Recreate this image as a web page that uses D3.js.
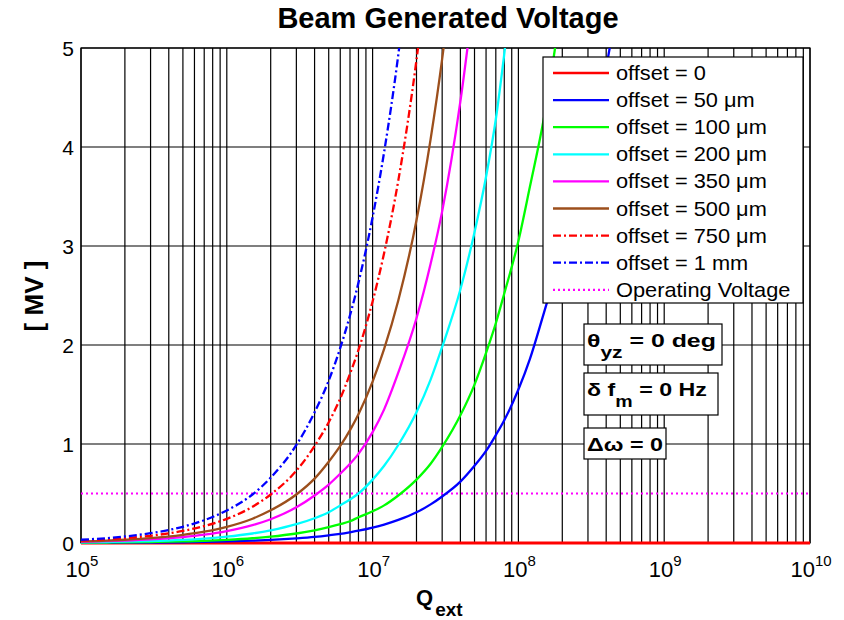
<!DOCTYPE html>
<html>
<head>
<meta charset="utf-8">
<script src="https://cdn.jsdelivr.net/npm/d3@7"></script>
<style>
  body { margin: 0; background: #fff; }
  text { font-family: "Liberation Sans", Arial, sans-serif; fill: #000; }
</style>
</head>
<body>
<div id="voltage_div"></div>
<script>
// Q_ext sample points
const q_values = [1e5, 1.5e5, 2e5, 3e5, 5e5, 7e5, 1e6, 1.5e6, 2e6, 3e6, 4e6, 5e6, 6e6, 7e6, 8e6,
  1e7, 1.2e7, 1.5e7, 2e7, 2.5e7, 3e7, 4e7, 5e7, 6e7, 7e7, 8e7, 1e8, 1.2e8, 1.5e8, 2e8, 2.5e8, 3e8, 4e8, 5e8,
  1e9, 1e10];

// beam generated voltage [MV] per offset, null once the curve has left the plot
const v_offset_0    = [0,0,0,0,0,0,0,0,0,0,0,0,0,0,0,0,0,0,0,0,0,0,0,0,0,0,0,0,0,0,0,0,0,0,0,0];
const v_offset_50   = [.0016,.0023,.003,.0047,.0078,.011,.0155,.023,.031,.047,.062,.078,.093,.109,.124,
  .155,.186,.233,.31,.39,.47,.62,.78,.93,1.09,1.24,1.55,1.86,2.33,2.95,3.4,3.85,4.8,5.6,null,null];
const v_offset_100  = [.003,.005,.006,.01,.016,.022,.032,.048,.064,.096,.128,.16,.19,.22,.26,
  .32,.38,.48,.64,.8,.97,1.29,1.6,1.92,2.22,2.52,3.05,3.6,4.3,5.5,null,null,null,null,null,null];
const v_offset_200  = [.006,.01,.013,.019,.032,.045,.064,.096,.128,.19,.25,.31,.38,.44,.50,
  .64,.78,.99,1.32,1.65,1.98,2.56,3.14,3.7,4.28,4.94,6.2,null,null,null,null,null,null,null,null,null];
const v_offset_350  = [.012,.018,.024,.036,.06,.084,.12,.18,.24,.36,.48,.59,.70,.80,.90,
  1.12,1.35,1.72,2.27,2.82,3.35,4.46,5.57,null,null,null,null,null,null,null,null,null,null,null,null,null];
const v_offset_500  = [.016,.024,.033,.049,.082,.114,.163,.245,.33,.49,.65,.82,.98,1.14,1.30,
  1.63,1.96,2.45,3.26,4.08,4.89,6.5,null,null,null,null,null,null,null,null,null,null,null,null,null,null];
const v_offset_750  = [.024,.037,.049,.073,.122,.171,.244,.366,.49,.73,.98,1.22,1.46,1.71,1.95,
  2.44,2.93,3.66,4.88,6.1,null,null,null,null,null,null,null,null,null,null,null,null,null,null,null,null];
const v_offset_1mm  = [.033,.049,.066,.099,.164,.23,.329,.49,.66,.99,1.32,1.64,1.97,2.30,2.63,
  3.29,3.95,4.93,6.58,null,null,null,null,null,null,null,null,null,null,null,null,null,null,null,null,null];
const operating_voltage = 0.5;

const series_labels = ["offset = 0", "offset = 50 \u03bcm", "offset = 100 \u03bcm", "offset = 200 \u03bcm",
  "offset = 350 \u03bcm", "offset = 500 \u03bcm", "offset = 750 \u03bcm", "offset = 1 mm"];
const series_values = [v_offset_0, v_offset_50, v_offset_100, v_offset_200,
  v_offset_350, v_offset_500, v_offset_750, v_offset_1mm];
const series_colors = ["#ff0000", "#0000ff", "#00ff00", "#00ffff", "#ff00ff", "#9c4f1c", "#ff0000", "#0000ff"];
const series_dashes = [null, null, null, null, null, null, "8,3,2,3", "8,3,2,3"];

// set the dimensions and margins of the graph
const bgv_margin = {top: 48, right: 34, bottom: 77, left: 81},
    bgv_width = 844 - bgv_margin.left - bgv_margin.right,
    bgv_height = 620 - bgv_margin.top - bgv_margin.bottom;

const bgv_root = d3.select("#voltage_div")
  .append("svg")
    .attr("width", 844)
    .attr("height", 620);

bgv_root.append("rect").attr("width", 844).attr("height", 620).attr("fill", "#fff");

const bgv_svg = bgv_root.append("g")
    .attr("transform", `translate(${bgv_margin.left}, ${bgv_margin.top})`);

const bgv_x = d3.scaleLog().domain([1e5, 1e10]).range([0, bgv_width]);
const bgv_y = d3.scaleLinear().domain([0, 5]).range([bgv_height, 0]);

bgv_svg.append("clipPath").attr("id", "plot_clip")
  .append("rect").attr("x", -2).attr("width", bgv_width + 4).attr("height", bgv_height + 2);

// grid (major + minor decades on x, integers on y)
bgv_svg.append("g").selectAll("line")
  .data(bgv_x.ticks())
  .join("line")
    .attr("x1", d => bgv_x(d)).attr("x2", d => bgv_x(d))
    .attr("y1", 0).attr("y2", bgv_height)
    .attr("stroke", "#000").attr("stroke-width", 1.2);

bgv_svg.append("g").selectAll("line")
  .data(bgv_y.ticks(5))
  .join("line")
    .attr("x1", 0).attr("x2", bgv_width)
    .attr("y1", d => bgv_y(d)).attr("y2", d => bgv_y(d))
    .attr("stroke", "#000").attr("stroke-width", 1.2);

bgv_svg.append("rect")
  .attr("width", bgv_width).attr("height", bgv_height)
  .attr("fill", "none").attr("stroke", "#000").attr("stroke-width", 1.2);

// curves
const bgv_line = d3.line()
  .defined(d => d[1] !== null)
  .x(d => bgv_x(d[0]))
  .y(d => bgv_y(d[1]))
  .curve(d3.curveMonotoneX);

const curve_g = bgv_svg.append("g").attr("clip-path", "url(#plot_clip)");

curve_g.append("line")
  .attr("x1", 0).attr("x2", bgv_width)
  .attr("y1", bgv_y(operating_voltage)).attr("y2", bgv_y(operating_voltage))
  .attr("stroke", "#ff00ff").attr("stroke-width", 2).attr("stroke-dasharray", "2,3");

series_values.forEach(function(vals, i) {
  curve_g.append("path")
    .datum(q_values.map((q, j) => [q, vals[j]]))
    .attr("d", bgv_line)
    .attr("fill", "none")
    .attr("stroke", series_colors[i])
    .attr("stroke-width", i === 0 ? 3 : 2.3)
    .attr("stroke-dasharray", series_dashes[i]);
});

// tick labels
bgv_svg.append("g").selectAll("text")
  .data(bgv_y.ticks(5))
  .join("text")
    .attr("x", -7).attr("y", d => bgv_y(d) + 7.5)
    .attr("text-anchor", "end")
    .style("font-size", "21px")
    .text(d => d);

const x_labels = bgv_svg.append("g").selectAll("text")
  .data([1e5, 1e6, 1e7, 1e8, 1e9, 1e10])
  .join("text")
    .attr("x", d => bgv_x(d) + 1).attr("y", bgv_height + 34)
    .attr("text-anchor", "middle")
    .style("font-size", "22px");
x_labels.append("tspan").text("10");
x_labels.append("tspan").attr("dy", -11).style("font-size", "15px").text(d => Math.round(Math.log10(d)));

// title and axis labels
bgv_root.append("text")
  .attr("x", 448).attr("y", 28)
  .attr("text-anchor", "middle")
  .style("font-size", "29px").style("font-weight", "bold")
  .text("Beam Generated Voltage");

bgv_root.append("text")
  .attr("transform", "translate(43, 296) rotate(-90)")
  .attr("text-anchor", "middle")
  .style("font-size", "26px").style("font-weight", "bold")
  .text("[ MV ]");

const q_label = bgv_root.append("text")
  .attr("x", 416).attr("y", 605)
  .style("font-size", "22px").style("font-weight", "bold");
q_label.append("tspan").text("Q");
q_label.append("tspan").attr("dy", 11).attr("dx", 2).style("font-size", "19px").text("ext");

// legend
const legend_g = bgv_root.append("g").attr("transform", "translate(543, 57)");
legend_g.append("rect")
  .attr("width", 260).attr("height", 246)
  .attr("fill", "#fff").attr("stroke", "#000").attr("stroke-width", 1.2);

const legend_labels = series_labels.concat(["Operating Voltage"]);
const legend_colors = series_colors.concat(["#ff00ff"]);
const legend_dashes = series_dashes.concat(["2,3"]);

legend_labels.forEach(function(lbl, i) {
  const ly = 16 + i * 27.1;
  legend_g.append("line")
    .attr("x1", 10).attr("x2", 66).attr("y1", ly).attr("y2", ly)
    .attr("stroke", legend_colors[i]).attr("stroke-width", 2.3)
    .attr("stroke-dasharray", legend_dashes[i]);
  legend_g.append("text")
    .attr("transform", `translate(73, ${ly + 7}) scale(1.09, 1)`)
    .style("font-size", "20px")
    .text(lbl);
});

// parameter boxes; the text in them is stretched sideways to fill the box
const param_boxes = [
  {x: 584, y: 324, w: 138, h: 41, base: 347, sub: 11, parts: [["\u03b8", ""], ["yz", "sub"], [" = 0 deg", "up"]], width: 129},
  {x: 584, y: 373, w: 134, h: 42, base: 396, sub: 11, parts: [["\u03b4 f", ""], ["m", "sub"], [" = 0 Hz", "up"]], width: 120},
  {x: 584, y: 428, w: 82, h: 31, base: 451, sub: 0, parts: [["\u0394\u03c9 = 0", ""]], width: 76}
];

param_boxes.forEach(function(b) {
  bgv_root.append("rect")
    .attr("x", b.x).attr("y", b.y).attr("width", b.w).attr("height", b.h)
    .attr("fill", "#fff").attr("stroke", "#000").attr("stroke-width", 1.2);
  const g = bgv_root.append("g");
  const t = g.append("text")
    .attr("x", 0).attr("y", 0)
    .style("font-size", "19px").style("font-weight", "bold");
  b.parts.forEach(function(p) {
    const s = t.append("tspan").text(p[0]);
    if (p[1] === "sub") s.attr("dy", b.sub).style("font-size", "16px");
    if (p[1] === "up") s.attr("dy", -b.sub);
  });
  const w = t.node().getBBox().width;
  g.attr("transform", `translate(${b.x + 3}, ${b.base}) scale(${b.width / w}, 1)`);
});
</script>
</body>
</html>
